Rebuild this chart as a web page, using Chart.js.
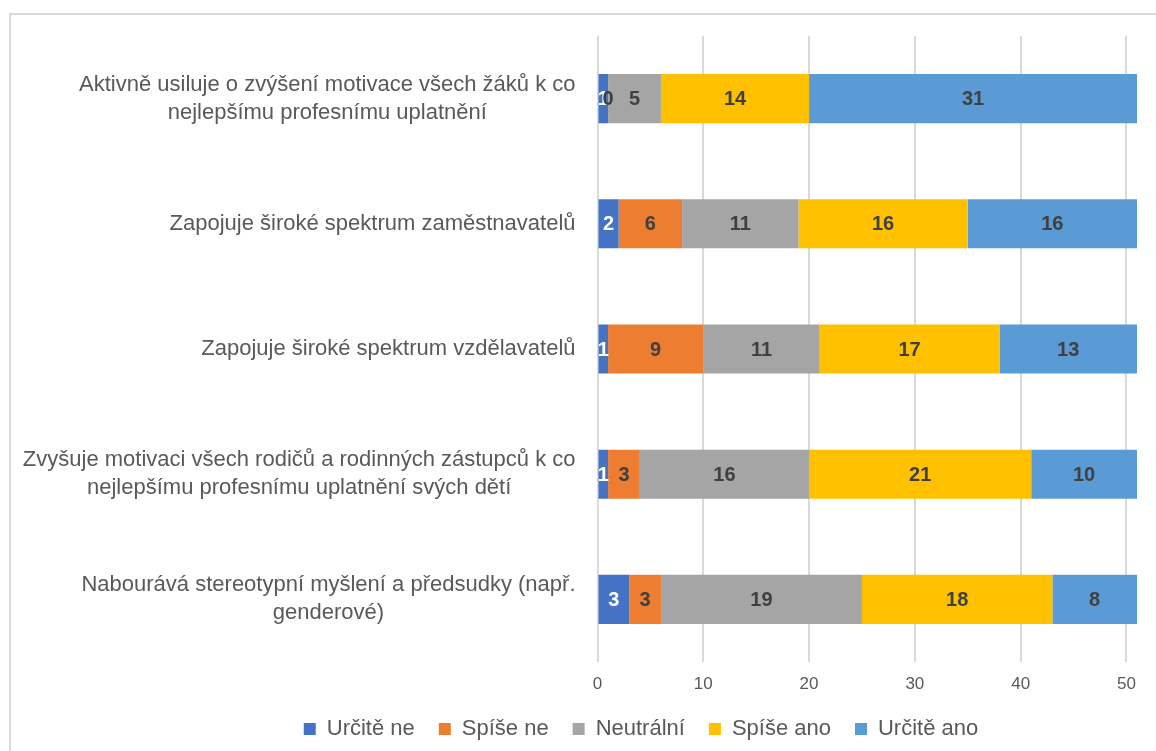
<!DOCTYPE html>
<html><head><meta charset="utf-8">
<script src="https://cdn.jsdelivr.net/npm/chart.js@4/dist/chart.umd.min.js"></script>
<style>
html,body{margin:0;padding:0;overflow:hidden;background:#fff;width:1156px;height:751px;}
#frame{position:absolute;left:9px;top:13px;width:1300px;height:800px;border:2px solid #d9d9d9;border-right:none;border-bottom:none;box-sizing:border-box;}
#c{position:absolute;left:11px;top:15px;}
</style></head><body>
<div id="frame"></div>
<canvas id="c" width="1260" height="735"></canvas>
<script>
const categories = [
  ["Aktivně usiluje o zvýšení motivace všech žáků k co", "nejlepšímu profesnímu uplatnění"],
  ["Zapojuje široké spektrum zaměstnavatelů"],
  ["Zapojuje široké spektrum vzdělavatelů"],
  ["Zvyšuje motivaci všech rodičů a rodinných zástupců k co", "nejlepšímu profesnímu uplatnění svých dětí"],
  ["Nabourává stereotypní myšlení a předsudky (např.", "genderové)"]
];
const seriesNames = ["Určitě ne", "Spíše ne", "Neutrální", "Spíše ano", "Určitě ano"];
const urciteNe  = [1, 2, 1, 1, 3];
const spiseNe   = [0, 6, 9, 3, 3];
const neutralni = [5, 11, 11, 16, 19];
const spiseAno  = [14, 16, 17, 21, 18];
const urciteAno = [31, 16, 13, 10, 8];
const xTickStep = 10;
const xMax = 51;

const FONT = '"Liberation Sans", Arial, sans-serif';
const colors = ["#4472C4", "#ED7D31", "#A5A5A5", "#FFC000", "#5B9BD5"];
const labelColors = ["#FFFFFF", "#404040", "#404040", "#404040", "#404040"];
const seriesValues = [urciteNe, spiseNe, neutralni, spiseAno, urciteAno];

const dataLabelPlugin = {
  id: 'dataLabels',
  afterDatasetsDraw(chart) {
    const ctx = chart.ctx;
    ctx.save();
    ctx.font = 'bold 20px ' + FONT;
    ctx.textAlign = 'center';
    ctx.textBaseline = 'middle';
    chart.data.datasets.forEach((ds, di) => {
      const meta = chart.getDatasetMeta(di);
      meta.data.forEach((bar, i) => {
        ctx.fillStyle = labelColors[di];
        ctx.fillText(String(ds.data[i]), (bar.x + bar.base) / 2, bar.y + 1);
      });
    });
    ctx.restore();
  }
};

const categoryLabelPlugin = {
  id: 'catLabels',
  afterDraw(chart) {
    const ctx = chart.ctx;
    const ys = chart.scales.y;
    ctx.save();
    ctx.font = '22px ' + FONT;
    ctx.fillStyle = '#595959';
    ctx.textAlign = 'center';
    ctx.textBaseline = 'middle';
    const lh = 28;
    categories.forEach((lines, i) => {
      const yc = ys.getPixelForValue(i);
      const w = Math.max(...lines.map(l => ctx.measureText(l).width));
      const cx = chart.chartArea.left - 22 - w / 2;
      lines.forEach((l, k) => ctx.fillText(l, cx, yc + (k - (lines.length - 1) / 2) * lh));
    });
    ctx.restore();
  }
};

new Chart(document.getElementById('c'), {
  type: 'bar',
  data: {
    labels: categories.map(l => l.join(' ')),
    datasets: seriesNames.map((name, i) => ({
      label: name,
      data: seriesValues[i],
      backgroundColor: colors[i],
      borderWidth: 0,
      categoryPercentage: 1,
      barPercentage: 0.392
    }))
  },
  options: {
    indexAxis: 'y',
    responsive: false,
    animation: false,
    devicePixelRatio: 1,
    layout: { padding: { top: 21, left: 0, right: 0, bottom: 0 } },
    plugins: {
      tooltip: { enabled: false },
      legend: {
        position: 'bottom',
        labels: {
          boxWidth: 12, boxHeight: 12, padding: 24,
          color: '#595959',
          font: { family: FONT, size: 22 }
        }
      }
    },
    scales: {
      x: {
        type: 'linear', stacked: true, min: 0, max: xMax, position: 'bottom',
        grid: { color: '#d9d9d9', lineWidth: 2, drawTicks: false },
        border: { display: false },
        ticks: { stepSize: xTickStep, includeBounds: false, padding: 12, color: '#595959', font: { family: FONT, size: 17 } },
        afterFit(s) { s.height = 32; }
      },
      y: {
        stacked: true,
        grid: { display: false },
        border: { display: false },
        ticks: { display: false },
        afterFit(s) { s.width = 586.5; }
      },
      y2: {
        type: 'category', position: 'right',
        grid: { display: false },
        border: { display: false },
        ticks: { display: false },
        afterFit(s) { s.width = 134; }
      }
    }
  },
  plugins: [dataLabelPlugin, categoryLabelPlugin]
});
</script>
</body></html>
